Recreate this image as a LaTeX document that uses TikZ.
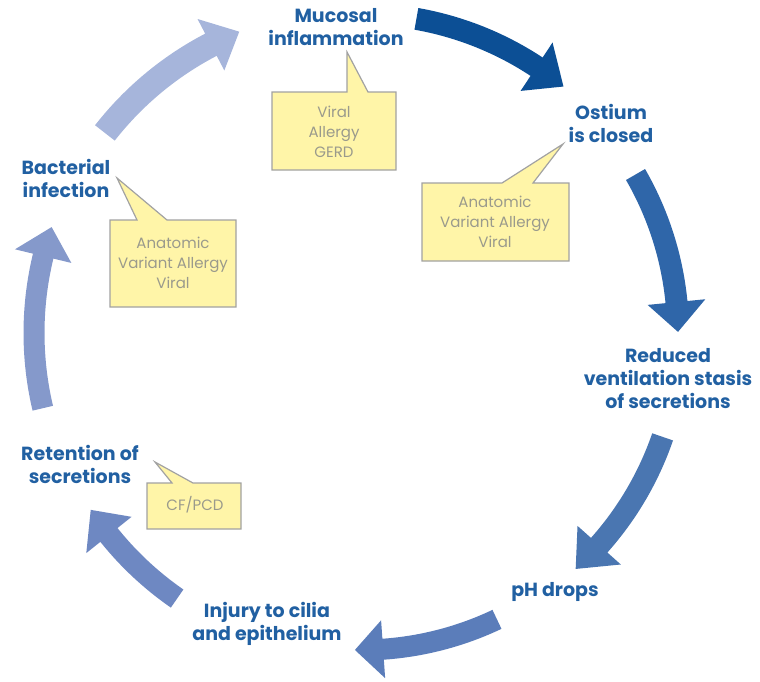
\documentclass[tikz,border=0pt]{standalone}
\usepackage{fontspec}
\setmainfont{Poppins}
\definecolor{stageblue}{HTML}{2160A2}
\definecolor{notegray}{HTML}{9A9A8C}
\definecolor{noteyellow}{HTML}{FFF5A8}
\definecolor{noteedge}{HTML}{A2A2A2}
\definecolor{arrA}{HTML}{A6B5DB}
\definecolor{arrB}{HTML}{0C4F95}
\definecolor{arrC}{HTML}{2F66A9}
\definecolor{arrD}{HTML}{4A76B1}
\definecolor{arrE}{HTML}{5B7DBA}
\definecolor{arrF}{HTML}{6E88C2}
\definecolor{arrG}{HTML}{8599CB}

% Curved block arrow on the cycle circle centred at (361,333)
% #1 colour, #2 radius, #3 tail angle, #4 head base angle, #5 tip angle, #6 shaft half width
\newcommand{\cyclearrow}[6]{%
  \fill[#1]
    plot[domain=#3:#4,samples=40,variable=\t] ({361+(#2-#6)*cos(\t)},{333+(#2-#6)*sin(\t)})
    -- ({361+(#2-29)*cos(#4)},{333+(#2-29)*sin(#4)})
    -- ({361+#2*cos(#5)},{333+#2*sin(#5)})
    -- ({361+(#2+29)*cos(#4)},{333+(#2+29)*sin(#4)})
    -- plot[domain=#4:#3,samples=40,variable=\t] ({361+(#2+#6)*cos(\t)},{333+(#2+#6)*sin(\t)})
    -- cycle;}

\begin{document}
\begin{tikzpicture}[x=1pt,y=-1pt,
  stage/.style={font=\bfseries\fontsize{19}{23}\selectfont, text=stageblue, align=center, inner sep=0pt},
  note/.style={font=\fontsize{15}{20}\selectfont, text=notegray, align=center, inner sep=0pt},
  callout/.style={fill=noteyellow, draw=noteedge, line width=1.2pt, line join=miter}]
\useasboundingbox (0,0) rectangle (760,681);

% cycle arrows
\cyclearrow{arrA}{325}{-142}{-117.5}{-112}{12.5}
\cyclearrow{arrB}{319}{-80}{-56.6}{-50.6}{11}
\cyclearrow{arrC}{317}{-30}{-5.6}{-0.2}{11}
\cyclearrow{arrD}{319}{19}{41.7}{47.7}{11}
\cyclearrow{arrE}{317}{64.6}{86}{91.1}{10.5}
\cyclearrow{arrF}{323}{124.7}{141.3}{146.8}{11}
\cyclearrow{arrG}{327}{166.7}{193.6}{198.9}{10.5}

% callout boxes
\draw[callout] (272,92) -- (347,92) -- (347,52) -- (368,92) -- (396,92) -- (396,170) -- (272,170) -- cycle;
\draw[callout] (422,183) -- (502,183) -- (563,144) -- (533,183) -- (569,183) -- (569,261) -- (422,261) -- cycle;
\draw[callout] (110,220) -- (137,220) -- (117,178) -- (167,220) -- (236,220) -- (236,307) -- (110,307) -- cycle;
\draw[callout] (147,483) -- (172,483) -- (155,462) -- (193,483) -- (241,483) -- (241,529) -- (147,529) -- cycle;

\node[note] (causesA) at (334,132) {Viral\\Allergy\\GERD};
\node[note] (causesB) at (495,222) {Anatomic\\Variant Allergy\\Viral};
\node[note] (causesC) at (173,263) {Anatomic\\Variant Allergy\\Viral};
\node[note] (causesD) at (195,505) {CF/PCD};

% stages of the cycle
\node[stage] (mucosal) at (336,27) {Mucosal\\inflammation};
\node[stage] (ostium) at (611,123) {Ostium\\is closed};
\node[stage] (reduced) at (668,379) {Reduced\\ventilation stasis\\of secretions};
\node[stage] (ph) at (555,592) {pH drops};
\node[stage] (injury) at (267,624) {Injury to cilia\\and epithelium};
\node[stage] (retention) at (80,464) {Retention of\\secretions};
\node[stage] (bacterial) at (66,178) {Bacterial\\infection};
\end{tikzpicture}
\end{document}
